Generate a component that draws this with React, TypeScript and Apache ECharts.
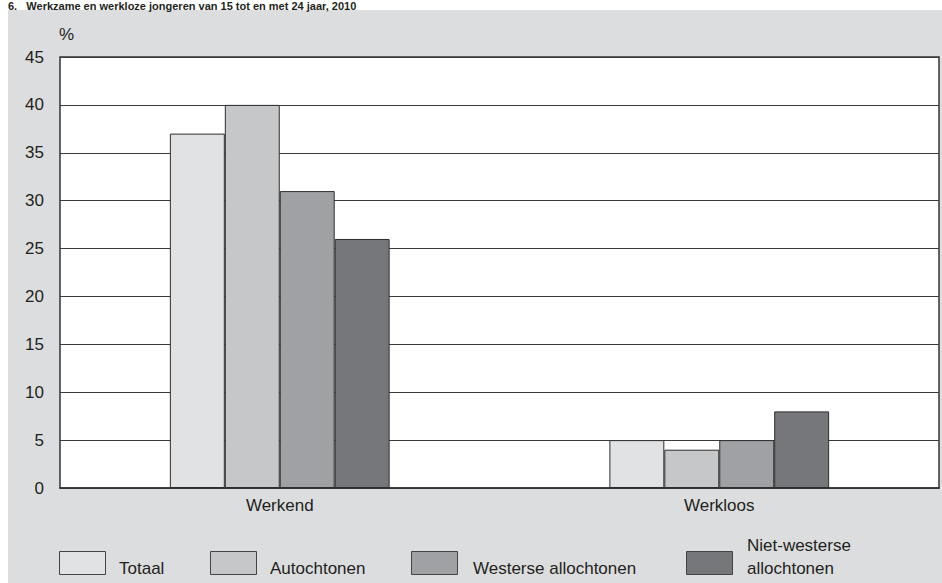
import React, { useEffect, useRef } from "react";
import * as echarts from "echarts";

const titleText = "6.   Werkzame en werkloze jongeren van 15 tot en met 24 jaar, 2010";
const categories = ["Werkend", "Werkloos"];
const seriesNames = ["Totaal", "Autochtonen", "Westerse allochtonen", "Niet-westerse allochtonen"];
const legendLabels = ["Totaal", "Autochtonen", "Westerse allochtonen", "Niet-westerse\nallochtonen"];
const totaal = [37, 5];
const autochtonen = [40, 4];
const westerse = [31, 5];
const nietWesterse = [26, 8];
const seriesValues = [totaal, autochtonen, westerse, nietWesterse];
const colors = ["#e1e2e4", "#c6c7c9", "#a0a1a4", "#76777a"];

const FONT = "'Liberation Sans', Arial, Helvetica, sans-serif";
const TXT = "#231f20";

export default function App() {
  const ref = useRef<HTMLDivElement>(null);
  useEffect(() => {
    if (!ref.current) return;
    const chart = echarts.init(ref.current, null, { renderer: "svg" });
    const legendBoxX = [59, 210, 411, 686];
    const legendTextX = [119, 270, 473, 747];
    const legendGraphics: any[] = [];
    seriesNames.forEach((_, i) => {
      legendGraphics.push({
        type: "rect",
        shape: { x: legendBoxX[i] + 0.5, y: 551.5, width: 46, height: 23 },
        style: { fill: colors[i], stroke: "#444", lineWidth: 1 },
        z: 10,
      });
      const twoLine = legendLabels[i].includes("\n");
      legendGraphics.push({
        type: "text",
        x: legendTextX[i],
        y: twoLine ? 556.5 : 568,
        style: {
          text: legendLabels[i],
          fill: TXT,
          font: `17px ${FONT}`,
          lineHeight: 23,
          verticalAlign: "middle",
          align: "left",
        },
        z: 10,
      });
    });
    chart.setOption({
      animation: false,
      backgroundColor: "#ffffff",
      textStyle: { fontFamily: FONT },
      graphic: [
        {
          type: "rect",
          shape: { x: 8, y: 10, width: 934, height: 573 },
          style: { fill: "#dcdddf" },
          z: -10,
        },
        {
          type: "text",
          x: 8,
          y: 0,
          style: {
            text: titleText,
            fill: TXT,
            font: `bold 11px ${FONT}`,
            verticalAlign: "top",
          },
          z: 10,
        },
        {
          type: "text",
          x: 59,
          y: 34,
          style: { text: "%", fill: TXT, font: `17px ${FONT}`, verticalAlign: "middle" },
          z: 10,
        },
        ...legendGraphics,
      ],
      grid: {
        left: 60,
        right: 3,
        top: 57,
        bottom: 95,
        show: true,
        backgroundColor: "#ffffff",
        borderColor: "#333333",
        borderWidth: 1.5,
        z: 0,
      },
      xAxis: {
        type: "category",
        data: categories,
        axisLine: { show: true, lineStyle: { color: "#333333", width: 1.5 } },
        axisTick: { show: false },
        axisLabel: { color: TXT, fontSize: 17, fontFamily: FONT, margin: 9 },
      },
      yAxis: {
        type: "value",
        min: 0,
        max: 45,
        interval: 5,
        axisLine: { show: false },
        axisTick: { show: false },
        axisLabel: { color: TXT, fontSize: 17, fontFamily: FONT, margin: 16 },
        splitLine: { show: true, lineStyle: { color: "#3a3a3a", width: 1 } },
      },
      series: seriesNames.map((name, i) => ({
        type: "bar",
        name,
        data: seriesValues[i],
        barGap: "0%",
        barCategoryGap: "50%",
        itemStyle: { color: colors[i], borderColor: "#2e2e2e", borderWidth: 1 },
        z: 2,
      })),
    });
    return () => chart.dispose();
  }, []);
  return (
    <div
      ref={ref}
      style={{ position: "absolute", left: 0, top: 0, width: 942, height: 583 }}
    />
  );
}
